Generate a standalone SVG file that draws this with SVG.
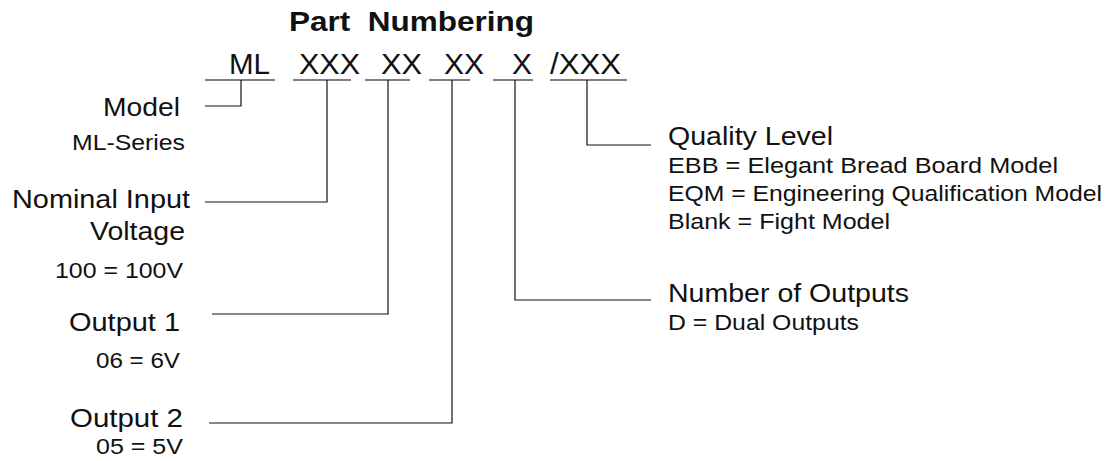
<svg xmlns="http://www.w3.org/2000/svg" width="1112" height="461" viewBox="0 0 1112 461">
<style>
text{font-family:"Liberation Sans",Arial,Helvetica,sans-serif;fill:#111}
.title{font-size:28px;font-weight:bold}
.code{font-size:29px}
.lbl{font-size:26px}
.sub{font-size:22.5px}
.end{text-anchor:end}
.ul{stroke:#555;stroke-width:1.3;fill:none}
.con{stroke:#111;stroke-width:1.2;fill:none}
</style>
<rect width="1112" height="461" fill="#fff"/>
<g id="title">
<text class="title" x="289" y="31" textLength="245" lengthAdjust="spacingAndGlyphs" xml:space="preserve">Part  Numbering</text>
</g>
<g id="code">
<text class="code" x="229" y="74" textLength="41" lengthAdjust="spacingAndGlyphs">ML</text>
<text class="code" x="299" y="74" textLength="61" lengthAdjust="spacingAndGlyphs">XXX</text>
<text class="code" x="381" y="74" textLength="41" lengthAdjust="spacingAndGlyphs">XX</text>
<text class="code" x="444" y="74" textLength="40" lengthAdjust="spacingAndGlyphs">XX</text>
<text class="code" x="512" y="74" textLength="20" lengthAdjust="spacingAndGlyphs">X</text>
<text class="code" x="550" y="74" textLength="71" lengthAdjust="spacingAndGlyphs">/XXX</text>
<line class="ul" x1="205" y1="80" x2="275" y2="80"/>
<line class="ul" x1="293" y1="80" x2="351" y2="80"/>
<line class="ul" x1="365" y1="80" x2="410" y2="80"/>
<line class="ul" x1="429" y1="80" x2="470" y2="80"/>
<line class="ul" x1="493" y1="80" x2="533" y2="80"/>
<line class="ul" x1="550" y1="80" x2="627" y2="80"/>
</g>
<g id="connectors">
<polyline class="con" points="241,80 241,106 205,106"/>
<polyline class="con" points="327,80 327,202 205,202"/>
<polyline class="con" points="388,80 388,314 212,314"/>
<polyline class="con" points="452,80 452,423 209,423"/>
<polyline class="con" points="515,80 515,300 651,300"/>
<polyline class="con" points="587,80 587,145 651,145"/>
</g>
<g id="model">
<text class="lbl end" x="180" y="116" textLength="77" lengthAdjust="spacingAndGlyphs">Model</text>
<text class="sub end" x="185" y="150" textLength="113" lengthAdjust="spacingAndGlyphs">ML-Series</text>
</g>
<g id="input-voltage">
<text class="lbl end" x="190" y="208" textLength="178" lengthAdjust="spacingAndGlyphs">Nominal Input</text>
<text class="lbl end" x="185" y="240" textLength="95" lengthAdjust="spacingAndGlyphs">Voltage</text>
<text class="sub end" x="183" y="278" textLength="128" lengthAdjust="spacingAndGlyphs">100 = 100V</text>
</g>
<g id="output1">
<text class="lbl end" x="180" y="331" textLength="111" lengthAdjust="spacingAndGlyphs">Output 1</text>
<text class="sub end" x="180" y="368" textLength="84" lengthAdjust="spacingAndGlyphs">06 = 6V</text>
</g>
<g id="output2">
<text class="lbl end" x="183" y="427" textLength="113" lengthAdjust="spacingAndGlyphs">Output 2</text>
<text class="sub end" x="183" y="454" textLength="87" lengthAdjust="spacingAndGlyphs">05 = 5V</text>
</g>
<g id="quality">
<text class="lbl" x="668" y="145" textLength="165" lengthAdjust="spacingAndGlyphs">Quality Level</text>
<text class="sub" x="668" y="173" textLength="390" lengthAdjust="spacingAndGlyphs">EBB = Elegant Bread Board Model</text>
<text class="sub" x="668" y="201" textLength="434" lengthAdjust="spacingAndGlyphs">EQM = Engineering Qualification Model</text>
<text class="sub" x="668" y="229" textLength="222" lengthAdjust="spacingAndGlyphs">Blank = Fight Model</text>
</g>
<g id="outputs">
<text class="lbl" x="668" y="302" textLength="241" lengthAdjust="spacingAndGlyphs">Number of Outputs</text>
<text class="sub" x="668" y="330" textLength="191" lengthAdjust="spacingAndGlyphs">D = Dual Outputs</text>
</g>
</svg>
